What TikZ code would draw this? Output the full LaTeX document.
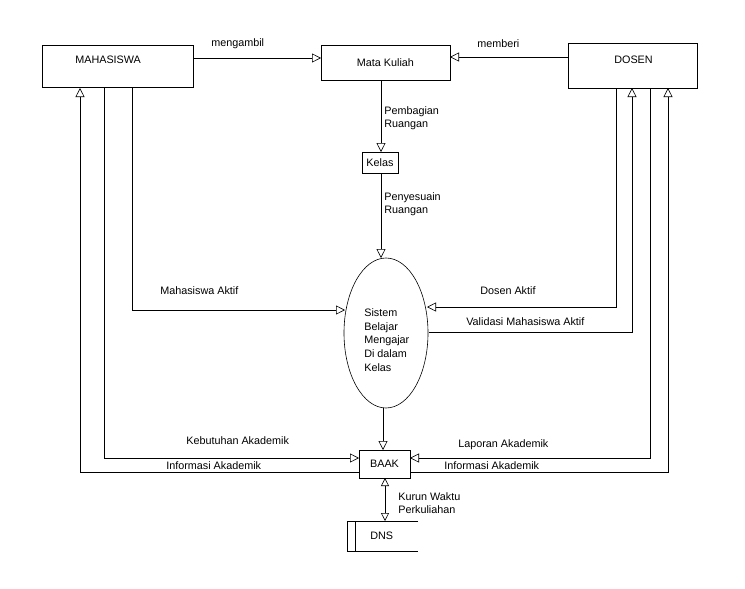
\documentclass[tikz,border=0pt]{standalone}
\usepackage{fontspec}
\setmainfont{Liberation Sans}
\usetikzlibrary{arrows.meta,shapes.geometric}
\tikzset{
  box/.style={draw, rectangle, inner sep=0pt},
  lbl/.style={inner sep=0pt, anchor=west, font=\fontsize{10.8}{13}\selectfont},
  flow/.style={-{Triangle[open,length=9pt,width=9pt]}},
  every node/.style={font=\fontsize{10.8}{13}\selectfont}
}
\begin{document}
\begin{tikzpicture}[x=1pt,y=-1pt,line width=0.6pt]
\useasboundingbox (0,0) rectangle (745,589);
% entities
\node[box, minimum width=151pt, minimum height=42pt] (mhs) at (117.5,66) {};
\node[lbl] at (75,60) {MAHASISWA};
\node[box, minimum width=129pt, minimum height=35pt] (mk) at (385.5,62.5) {Mata Kuliah};
\node[box, minimum width=129pt, minimum height=45pt] (dsn) at (632.5,65.5) {};
\node[lbl] at (614,60) {DOSEN};
\node[box, minimum width=36pt, minimum height=21pt] (kls) at (380,162.5) {Kelas};
\node[draw, ellipse, minimum width=84pt, minimum height=150pt, inner sep=0pt] (sys) at (386,333) {};
\node[lbl, align=left, font=\fontsize{10.8}{13.8}\selectfont] at (364,340) {Sistem\\Belajar\\Mengajar\\Di dalam\\Kelas};
\node[box, minimum width=51pt, minimum height=28pt] (baak) at (384.5,464) {BAAK};
% DNS store
\coordinate (dnsT) at (385,521);
\draw (418,521) -- (347,521) -- (347,551) -- (418,551);
\draw (355,521) -- (355,551);
\node[lbl] (dns) at (370,536) {DNS};
% flows
\draw[flow] (193,58) -- (321,58);
\node[lbl] at (211,44) {mengambil};
\draw[flow] (568,57) -- (450,57);
\node[lbl] at (477,44) {memberi};
\draw[flow] (381,80) -- (381,152);
\node[lbl, align=left] at (384,118) {Pembagian\\Ruangan};
\draw[flow] (381,173) -- (381,258);
\node[lbl, align=left] at (384,204) {Penyesuain\\Ruangan};
\draw[flow] (132,87) -- (132,310) -- (345,310);
\node[lbl] at (160,291) {Mahasiswa Aktif};
\draw[flow] (616,88) -- (616,307) -- (427,307);
\node[lbl] at (480,291) {Dosen Aktif};
\draw[flow] (429,332) -- (632,332) -- (632,88);
\node[lbl] at (466,322) {Validasi Mahasiswa Aktif};
\draw[flow] (383,408) -- (383,450);
\draw[flow] (104,87) -- (104,458) -- (359,458);
\node[lbl] at (186,441) {Kebutuhan Akademik};
\draw[flow] (359,472) -- (80,472) -- (80,88);
\node[lbl] at (166,466) {Informasi Akademik};
\draw[flow] (650,88) -- (650,458) -- (410,458);
\node[lbl] at (458,445) {Laporan Akademik};
\draw[flow] (410,472) -- (668,472) -- (668,88);
\node[lbl] at (444,466) {Informasi Akademik};
\draw[{Triangle[open,length=8pt,width=8pt]}-{Triangle[open,length=8pt,width=8pt]}] (385,478) -- (dnsT);
\node[lbl, align=left] at (398,503) {Kurun Waktu\\Perkuliahan};
\end{tikzpicture}
\end{document}
